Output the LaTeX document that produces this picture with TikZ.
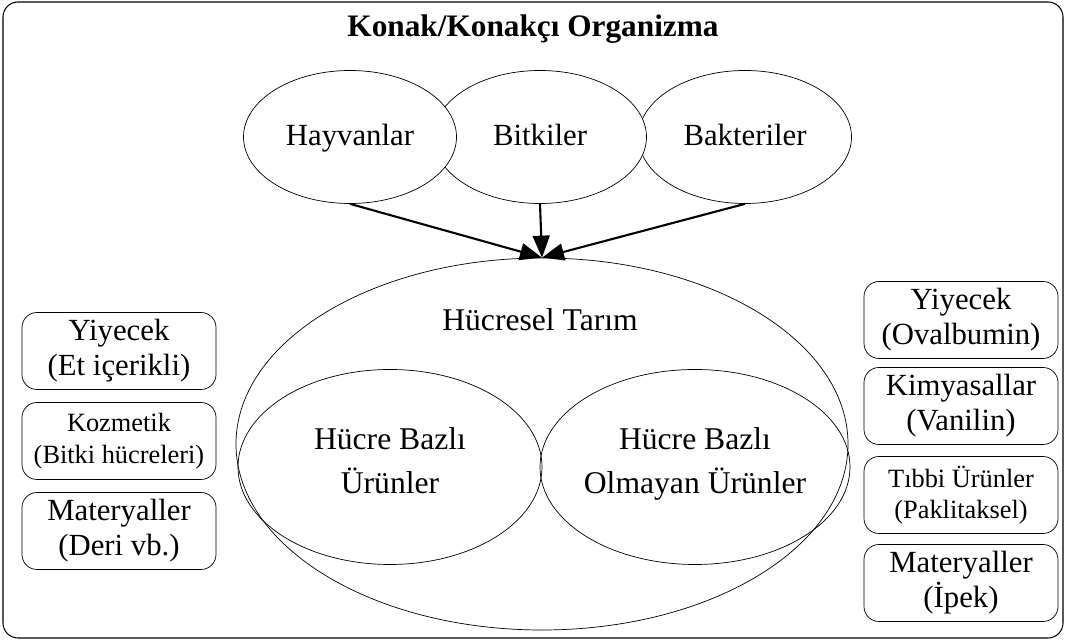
\documentclass[tikz,border=0pt]{standalone}
\usepackage{fontspec}
\setmainfont{Liberation Serif}
\usepackage{tikz}
\usetikzlibrary{arrows.meta, positioning, shapes.geometric}

\newcommand{\bigtxt}{\fontsize{17.5}{20}\selectfont}
\newcommand{\smalltxt}{\fontsize{15}{18}\selectfont}
\newcommand{\innertxt}{\fontsize{18}{25}\selectfont}

\begin{document}
\begin{tikzpicture}[
        frm/.style = {draw, rounded corners=0.3cm, line width=0.6pt},
        org/.style = {draw, ellipse, fill=white, minimum width=4.26cm, minimum height=2.66cm, font=\bigtxt, text height=2.2ex, text depth=0pt},
        inr/.style = {draw, ellipse, minimum height=3.9cm},
        box/.style = {draw, rounded corners=0.3cm, minimum width=3.88cm, minimum height=1.54cm, align=center, font=\bigtxt},
        sbox/.style = {box, font=\smalltxt},
        txt/.style = {align=center, font=\innertxt, execute at end node=\strut},
        ar/.style  = {-{Triangle[length=4.4mm, width=3.4mm]}, line width=1.2pt}
    ]
        \useasboundingbox (0,0) rectangle (21.32,12.88);
        \draw[frm] (0.06,0.12) rectangle (21.26,12.84);

        \node[font=\fontsize{17.8}{22}\selectfont\bfseries] (ttl) at (10.66,12.3) {Konak/Konakçı Organizma};

        % host organisms
        \node[org] (bak) at (14.9,10.14) {Bakteriler};
        \node[org] (bit) at (10.8,10.14) {Bitkiler};
        \node[org] (hay) at (7.0,10.14)  {Hayvanlar};

        % cellular agriculture
        \node[draw, ellipse, minimum width=12.24cm, minimum height=7.44cm] (ht) at (10.84,4.0) {};
        \node[txt] (htl) at (10.8,6.44) {Hücresel Tarım};
        \node[inr, minimum width=6.08cm] (cb)  at (7.8,3.54)  {};
        \node[inr, minimum width=6.2cm]  (cbo) at (13.9,3.54) {};
        \node[txt] at (7.8,3.54)  {Hücre Bazlı\\Ürünler};
        \node[txt] at (13.9,3.54) {Hücre Bazlı\\Olmayan Ürünler};

        \draw[ar] (hay.south) -- (ht.north);
        \draw[ar] (bit.south) -- (ht.north);
        \draw[ar] (bak.south) -- (ht.north);

        % cell based products
        \node[box]  (l1) at (2.38,5.86) {Yiyecek\\(Et içerikli)};
        \node[sbox] (l2) at (2.38,4.06) {Kozmetik\\(Bitki hücreleri)};
        \node[box]  (l3) at (2.38,2.26) {Materyaller\\(Deri vb.)};

        % acellular products
        \node[box]  (r1) at (19.22,6.48) {Yiyecek\\(Ovalbumin)};
        \node[box]  (r2) at (19.22,4.76) {Kimyasallar\\(Vanilin)};
        \node[sbox] (r3) at (19.22,2.98) {Tıbbi Ürünler\\(Paklitaksel)};
        \node[box]  (r4) at (19.22,1.22) {Materyaller\\(İpek)};
    \end{tikzpicture}
\end{document}
